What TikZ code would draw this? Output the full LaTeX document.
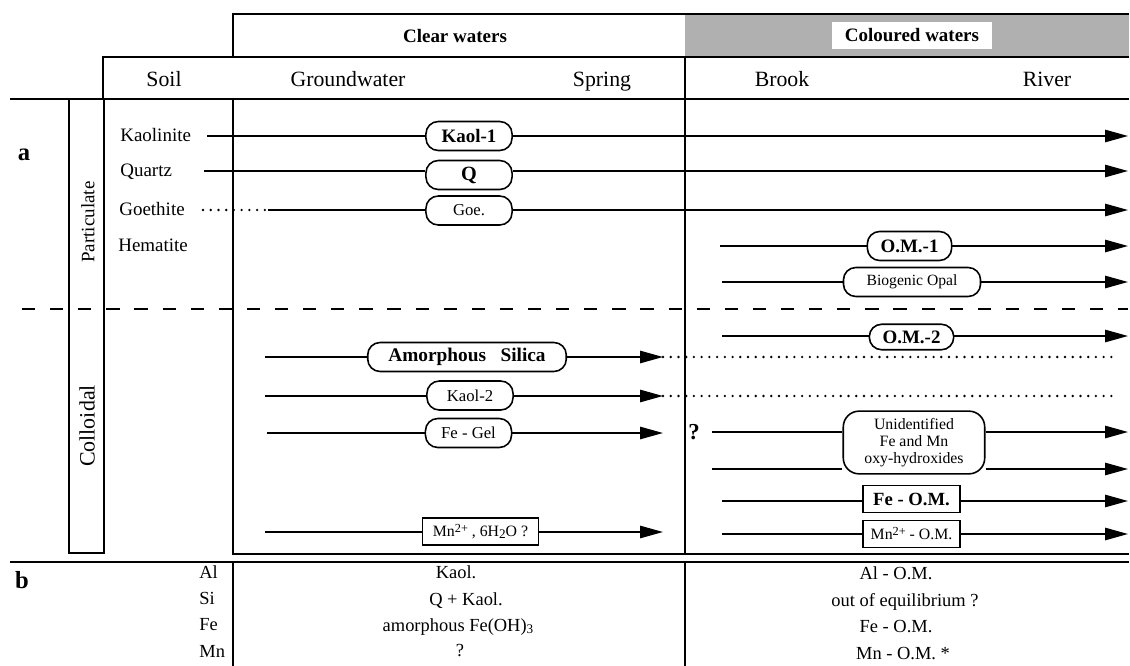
\documentclass[tikz,border=0pt]{standalone}
\usepackage{fontspec}
\setmainfont{Liberation Serif}
\usetikzlibrary{arrows.meta,calc}
\newcommand{\upidx}[1]{\raisebox{0.55ex}{\fontsize{7}{8}\selectfont #1}}
\newcommand{\lowidx}[1]{\raisebox{-0.35ex}{\fontsize{7.5}{8}\selectfont #1}}

\begin{document}
\begin{tikzpicture}[x=0.02cm, y=-0.02cm, line cap=butt, line join=miter,
    frame/.style={line width=1pt},
    flow/.style={line width=0.9pt},
    flowarrow/.style={line width=0.9pt, -{Triangle[length=13pt,width=7pt]}},
    trace/.style={line width=1.5pt, line cap=round, dash pattern=on 0pt off 4.4pt},
    pill/.style={draw, line width=0.9pt, rounded corners=7pt, fill=white, minimum height=16.5pt, inner sep=1pt},
    boxed/.style={draw, line width=0.9pt, fill=white, minimum height=15.5pt, inner sep=1pt},
    head/.style={anchor=base, font=\fontsize{12.4}{14}\selectfont, inner sep=0pt},
    rowlabel/.style={anchor=base west, font=\fontsize{10.8}{12}\selectfont, inner sep=0pt},
    cell/.style={anchor=base, font=\fontsize{10.5}{12}\selectfont, inner sep=0pt}]
            \useasboundingbox (0,0) rectangle (1130,666);

            % header
            \fill[gray!62] (685,14) rectangle (1129,57);
            \draw[frame] (233,57) -- (233,14) -- (1129,14);
            \draw[frame] (103,99) -- (103,57) -- (1129,57);
            \draw[frame] (10,99) -- (1129,99);
            \node[font=\fontsize{10.8}{12}\bfseries] (clear) at (455,36) {Clear waters};
            \node[fill=white, minimum width=91pt, minimum height=15.3pt, inner sep=0pt,
                  font=\fontsize{10.8}{12}\bfseries] (coloured) at (912,35.5) {Coloured waters};
            \node[head] (soil) at (164,86) {Soil};
            \node[head] (ground) at (348,86) {Groundwater};
            \node[head] (spring) at (602,86) {Spring};
            \node[head] (brook) at (782,86) {Brook};
            \node[head] (river) at (1047,86) {River};

            % frames of part a
            \draw[frame] (69,99) rectangle (104,553);
            \draw[frame] (233,99) -- (233,554) -- (1129,554);
            \draw[frame] (685,57) -- (685,554);
            \node[rotate=90, font=\fontsize{10.8}{12}\selectfont] (partic) at (88,222) {Particulate};
            \node[rotate=90, font=\fontsize{12.5}{14}\selectfont] (colloid) at (87,426) {Colloidal};
            \node[font=\fontsize{14}{16}\bfseries] (parta) at (24,155) {a};

            % particulate rows
            \node[rowlabel] (kaolinite) at (120,141) {Kaolinite};
            \node[rowlabel] (quartz) at (120,176) {Quartz};
            \node[rowlabel] (goethite) at (119,215) {Goethite};
            \node[rowlabel] (hematite) at (118,251) {Hematite};

            \coordinate (kaoS) at (207,136);
            \coordinate (kaoE) at (1128,136);
            \node[pill, minimum width=49pt, font=\fontsize{10.8}{12}\bfseries] (kaol1) at (469,136) {Kaol-1};
            \draw[flow] (kaoS) -- (kaol1);
            \draw[flowarrow] (kaol1) -- (kaoE);

            \coordinate (qzS) at (204,171);
            \coordinate (qzE) at (1128,171);
            \node[pill, minimum width=49pt, font=\fontsize{11.5}{12}\bfseries] (q) at (469,175) {Q};
            \draw[flow] (qzS) -- (qzS -| q.west);
            \draw[flowarrow] (qzS -| q.east) -- (qzE);

            \coordinate (goeS) at (203,210);
            \coordinate (goeM) at (268,210);
            \coordinate (goeE) at (1128,210);
            \node[pill, minimum width=49pt, font=\fontsize{9.5}{11}\selectfont] (goe) at (469,210.5) {Goe.};
            \draw[trace] (goeS) -- (goeM);
            \draw[flow] (goeM) -- (goeM -| goe.west);
            \draw[flowarrow] (goeM -| goe.east) -- (goeE);

            \coordinate (om1S) at (720,246);
            \coordinate (om1E) at (1128,246);
            \node[pill, minimum width=48pt, font=\fontsize{10.8}{12}\bfseries] (om1) at (909.5,246) {O.M.-1};
            \draw[flow] (om1S) -- (om1);
            \draw[flowarrow] (om1) -- (om1E);

            \coordinate (opS) at (722,282);
            \coordinate (opE) at (1128,282);
            \node[pill, minimum width=78pt, font=\fontsize{8.9}{10}\selectfont] (opal) at (912,282) {Biogenic Opal\hspace{8pt}};
            \draw[flow] (opS) -- (opal);
            \draw[flowarrow] (opal) -- (opE);

            % particulate / colloidal limit
            \coordinate (sepL) at (22,309);
            \coordinate (sepR) at (1128,309);
            \draw[line width=1pt, dash pattern=on 7.5pt off 8.5pt] (sepL) -- (sepR);

            % colloidal rows
            \coordinate (om2S) at (722,336);
            \coordinate (om2E) at (1128,336);
            \node[pill, minimum width=48pt, minimum height=14.5pt, font=\fontsize{10.8}{12}\bfseries] (om2) at (911.5,337) {O.M.-2};
            \draw[flow] (om2S) -- (om2S -| om2.west);
            \draw[flowarrow] (om2S -| om2.east) -- (om2E);

            \coordinate (silS) at (265,357);
            \coordinate (silE) at (663,357);
            \coordinate (silD) at (1117,357);
            \node[pill, minimum width=113pt, font=\fontsize{11}{12}\bfseries] (silica) at (467,357) {Amorphous\hspace{0.5em} Silica};
            \draw[flow] (silS) -- (silica);
            \draw[flowarrow] (silica) -- (silE);
            \draw[trace] (silE) -- (silD);

            \coordinate (k2S) at (265,396);
            \coordinate (k2E) at (663,396);
            \coordinate (k2D) at (1117,396);
            \node[pill, minimum width=49pt, font=\fontsize{9.5}{11}\selectfont] (kaol2) at (470,395.5) {Kaol-2};
            \draw[flow] (k2S) -- (k2S -| kaol2.west);
            \draw[flowarrow] (k2S -| kaol2.east) -- (k2E);
            \draw[trace] (k2E) -- (k2D);

            \coordinate (gelS) at (267,433);
            \coordinate (gelE) at (663,433);
            \node[pill, minimum width=49pt, font=\fontsize{9.5}{11}\selectfont] (gel) at (468.5,433) {Fe - Gel};
            \draw[flow] (gelS) -- (gel);
            \draw[flowarrow] (gel) -- (gelE);
            \node[font=\fontsize{13}{14}\bfseries] (unknown) at (694,432) {?};

            \coordinate (oxS1) at (712,432);
            \coordinate (oxE1) at (1128,432);
            \coordinate (oxS2) at (712,469);
            \coordinate (oxE2) at (1128,469);
            \node[pill, minimum width=80.5pt, minimum height=35.7pt, rounded corners=9pt, align=center,
                  font=\fontsize{9}{9.8}\selectfont] (oxy) at (914,442.5) {Unidentified\\Fe and Mn\\oxy-hydroxides};
            \draw[flow] (oxS1) -- (oxS1 -| oxy.west);
            \draw[flowarrow] (oxS1 -| oxy.east) -- (oxE1);
            \draw[flow] (oxS2) -- (oxS2 -| oxy.west);
            \draw[flowarrow] (oxS2 -| oxy.east) -- (oxE2);

            \coordinate (feS) at (722,501);
            \coordinate (feE) at (1128,501);
            \node[boxed, minimum width=55pt, font=\fontsize{10.6}{12}\bfseries] (feom) at (911.5,499) {Fe - O.M.};
            \draw[flow] (feS) -- (feS -| feom.west);
            \draw[flowarrow] (feS -| feom.east) -- (feE);

            \coordinate (mnS) at (722,534);
            \coordinate (mnE) at (1128,534);
            \node[boxed, minimum width=55pt, font=\fontsize{9}{10}\selectfont] (mnom) at (911.5,534) {Mn\upidx{2+} - O.M.};
            \draw[flow] (mnS) -- (mnom);
            \draw[flowarrow] (mnom) -- (mnE);

            \coordinate (mwS) at (265,532);
            \coordinate (mwE) at (663,532);
            \node[boxed, minimum width=66pt, font=\fontsize{9}{10}\selectfont] (mnwat) at (480.5,531.5) {Mn\upidx{2+} , 6H\lowidx{2}O ?};
            \draw[flow] (mwS) -- (mwS -| mnwat.west);
            \draw[flowarrow] (mwS -| mnwat.east) -- (mwE);

            % part b
            \draw[frame] (10,562) -- (1129,562);
            \draw[frame] (233,562) -- (233,666);
            \draw[frame] (685,562) -- (685,666);
            \node[font=\fontsize{14}{16}\bfseries] (partb) at (22,580) {b};

            \node[cell, anchor=base west] (al) at (199,578) {Al};
            \node[cell, anchor=base west] (si) at (199,604) {Si};
            \node[cell, anchor=base west] (fe) at (199,630) {Fe};
            \node[cell, anchor=base west] (mn) at (199,657) {Mn};

            \node[cell] (alclear) at (456,578) {Kaol.};
            \node[cell] (siclear) at (466,605) {Q + Kaol.};
            \node[cell] (feclear) at (458,631) {amorphous Fe(OH)\lowidx{3}};
            \node[cell] (mnclear) at (460,656) {?};

            \node[cell] (alcol) at (896,579) {Al - O.M.};
            \node[cell] (sicol) at (905,606) {out of equilibrium ?};
            \node[cell] (fecol) at (896,632) {Fe - O.M.};
            \node[cell] (mncol) at (903,659) {Mn - O.M. *};

        \end{tikzpicture}
\end{document}
